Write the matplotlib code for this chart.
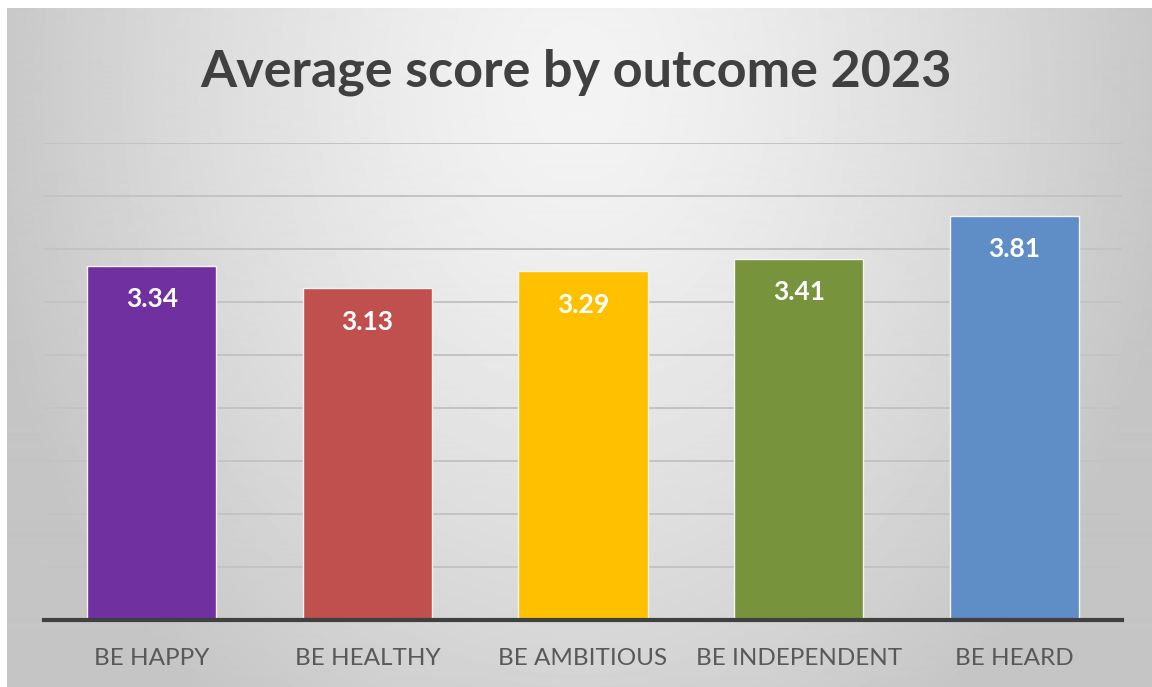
import numpy as np
import matplotlib.pyplot as plt

categories = ["BE HAPPY", "BE HEALTHY", "BE AMBITIOUS", "BE INDEPENDENT", "BE HEARD"]
scores = [3.34, 3.13, 3.29, 3.41, 3.81]
bar_colors = ["#7030A0", "#C0504D", "#FFC000", "#77933C", "#5F8DC6"]
title = "Average score by outcome 2023"

W, H = 1152, 687
fig = plt.figure(figsize=(W / 100, H / 100), dpi=100)
fig.patch.set_facecolor("white")

# chart area with a soft radial grey fill
bg = fig.add_axes([7 / W, 0, 1 - 7 / W, 1 - 8 / H])
bg.set_axis_off()
yy, xx = np.mgrid[0:680, 0:1145]
r = np.sqrt(((xx - 570) / 620.0) ** 2 + ((yy - 80) / 800.0) ** 2)
shade = np.clip(0.955 - 0.19 * r ** 1.4, 0.77, 1.0)
bg.imshow(shade, cmap="gray", vmin=0, vmax=1, aspect="auto", interpolation="bilinear")

ax = fig.add_axes([44 / W, 1 - 620 / H, (1122 - 44) / W, (620 - 143) / H])
ax.set_facecolor("none")
x = np.arange(len(categories))
ax.set_xlim(-0.5, len(categories) - 0.5)
ax.set_ylim(0, 4.5)

for yv in np.arange(0.5, 4.51, 0.5):
    ax.axhline(yv, color="#c3c3c3", lw=1.4, zorder=0)

bars = ax.bar(x, scores, width=0.6, color=bar_colors, edgecolor="#f4f4f4", linewidth=1.0, zorder=2)
for b, v in zip(bars, scores):
    ax.annotate(f"{v:.2f}", (b.get_x() + b.get_width() / 2, v), xytext=(0, -24),
                textcoords="offset points", ha="center", va="center",
                color="white", fontsize=19, fontweight="bold", family="Lato", zorder=3)

for side in ["top", "left", "right"]:
    ax.spines[side].set_visible(False)
ax.spines["bottom"].set_color("#404040")
ax.spines["bottom"].set_linewidth(3)
ax.spines["bottom"].set_zorder(4)
ax.set_yticks([])
ax.set_xticks(x)
ax.set_xticklabels(categories, fontsize=17.5, color="#595959", family="Lato")
ax.tick_params(axis="x", length=0, pad=20)

fig.text(0.5, 1 - 72 / H, title, ha="center", va="center", fontsize=37.5,
         fontweight="bold", color="#404040", family="Lato")

fig.savefig("out.png", dpi=100)
